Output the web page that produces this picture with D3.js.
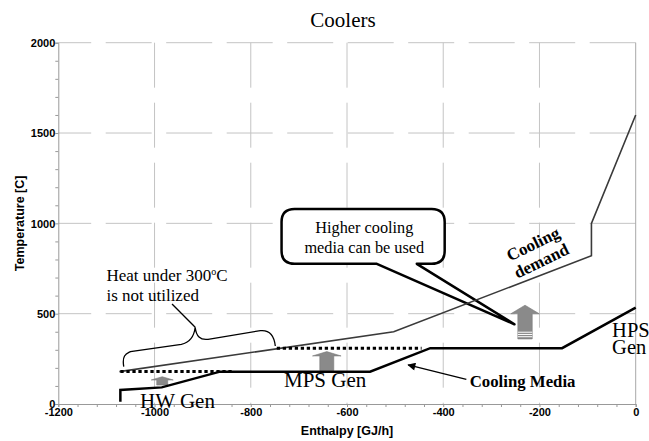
<!DOCTYPE html>
<html><head><meta charset="utf-8">
<script src="https://cdn.jsdelivr.net/npm/d3@7/dist/d3.min.js"></script>
<style>
html,body{margin:0;padding:0;background:#fff;}
svg{display:block;}
.serif{font-family:"Liberation Serif","Times New Roman",serif;}
.sans{font-family:"Liberation Sans",Arial,sans-serif;font-weight:bold;}
</style></head>
<body>
<svg id="chart" width="649" height="441"></svg>
<script>
// ---- data ----
const title = "Coolers";
const xTicks = [-1200, -1000, -800, -600, -400, -200, 0];
const yTicks = [0, 500, 1000, 1500, 2000];
// Cooling demand curve (enthalpy GJ/h, temperature C)
const demandH = [-1073, -503, -92, -92, 0];
const demandT = [179, 400, 821, 1000, 1600];
// Cooling media curve
const mediaH = [-1071, -1071, -985, -864, -552, -427, -153, 0];
const mediaT = [13, 78, 92, 179, 179, 309, 309, 533];
// dotted levels
const dotStartH = [-1071, -746];
const dotEndH = [-836, -445];
const dotT = [180, 309];
// upward block arrows
const arrowH = [-984, -642, -230];
const arrowBottomT = [105, 185, 360];
const arrowNeckT = [133, 266, 499];
const arrowTopT = [151, 290, 547];

// ---- scales ----
const svg = d3.select("#chart");
const x = d3.scaleLinear().domain([-1200, 0]).range([58.3, 635.7]);
const y = d3.scaleLinear().domain([0, 2000]).range([404, 42.7]);
const P = (h, t) => [x(h), y(t)];

// ---- grid ----
const grid = svg.append("g").attr("stroke", "#c4c4c4").attr("stroke-width", 1);
yTicks.filter(t => t > 0).forEach(t => {
  grid.append("line").attr("x1", x(0)).attr("x2", x(-1200)).attr("y1", y(t)).attr("y2", y(t))
    .attr("stroke-dasharray", "46,14.5");
});
xTicks.filter(h => h > -1200 && h < 0).forEach(h => {
  grid.append("line").attr("x1", x(h)).attr("x2", x(h)).attr("y1", y(2000)).attr("y2", y(0))
    .attr("stroke-dasharray", "45,15");
});
svg.append("line").attr("x1", x(0)).attr("x2", x(0)).attr("y1", y(2000)).attr("y2", y(0))
  .attr("stroke", "#a8a8a8").attr("stroke-width", 1);

// ---- axes ----
const yAxis = d3.axisLeft(y).tickValues(d3.range(0, 2001, 100)).tickSize(3)
  .tickFormat(d => yTicks.includes(d) ? d : "");
const gy = svg.append("g").attr("transform", `translate(${x(-1200)},0)`).call(yAxis);
const xAxis = d3.axisBottom(x).tickValues(d3.range(-1200, 1, 40)).tickSize(3)
  .tickFormat(d => xTicks.includes(d) ? d : "");
const gx = svg.append("g").attr("transform", `translate(0,${y(0)})`).call(xAxis);
[gx, gy].forEach(g => {
  g.attr("font-family", null).attr("font-size", null);
  g.select(".domain").attr("stroke", "#999");
  g.selectAll(".tick line").attr("stroke", "#999");
  g.selectAll("text")
    .style("font-family", '"Liberation Sans", Arial, sans-serif')
    .style("font-weight", "bold").style("font-size", "11px").attr("fill", "#000");
});
gy.selectAll("text").attr("x", -3).attr("dy", "0.35em");
gx.selectAll("text").attr("y", 4).attr("dy", "0.71em");

svg.append("text").attr("class", "sans").attr("font-size", 12.5).attr("text-anchor", "middle")
  .attr("transform", `translate(24,${(y(0) + y(2000)) / 2}) rotate(-90)`).text("Temperature [C]");
svg.append("text").attr("class", "sans").attr("font-size", 12.5).attr("text-anchor", "middle")
  .attr("x", (x(-1200) + x(0)) / 2).attr("y", 435).text("Enthalpy [GJ/h]");
svg.append("text").attr("class", "serif").attr("font-size", 21).attr("text-anchor", "middle")
  .attr("x", 343).attr("y", 27).text(title);

// ---- callout bubble ----
(function () {
  const L = x(-736), R = x(-397), T = y(1079), B = y(776), r = 13;
  const tl = x(-538), tr = x(-455), tip = P(-252, 441);
  const d = `M${tl},${B} L${L + r},${B} Q${L},${B} ${L},${B - r} L${L},${T + r} Q${L},${T} ${L + r},${T}
    L${R - r},${T} Q${R},${T} ${R},${T + r} L${R},${B - r} Q${R},${B} ${R - r},${B} L${tr},${B} L${tip[0]},${tip[1]} Z`;
  svg.append("path").attr("d", d).attr("fill", "#fff").attr("stroke", "#000").attr("stroke-width", 2.5)
    .attr("stroke-linejoin", "round");
  const t = svg.append("text").attr("class", "serif").attr("font-size", 16.3).attr("text-anchor", "middle");
  t.append("tspan").attr("x", x(-564)).attr("y", y(947)).text("Higher cooling");
  t.append("tspan").attr("x", x(-564)).attr("y", y(838)).text("media can be used");
})();

// ---- block arrows ----
const arrowW = [[11, 5.5], [14.3, 7], [14.3, 7.2]];
arrowH.forEach((h, i) => {
  const cx = x(h), hw = arrowW[i][0], sw = arrowW[i][1];
  const yb = y(arrowBottomT[i]), yn = y(arrowNeckT[i]), yt = y(arrowTopT[i]);
  const pts = [[cx - sw, yb], [cx - sw, yn], [cx - hw, yn], [cx, yt], [cx + hw, yn], [cx + sw, yn], [cx + sw, yb]];
  svg.append("path").attr("d", d3.line()(pts) + "Z").attr("fill", "#8a8a8a").attr("stroke", "#7a7a7a")
    .attr("stroke-width", 0.6);
  if (i === 2) {
    [0.25, 0.5, 0.75].forEach(f => {
      const yy = yb - f * 9;
      svg.append("line").attr("x1", cx - sw).attr("x2", cx + sw).attr("y1", yy).attr("y2", yy)
        .attr("stroke", "#fff").attr("stroke-width", 1);
    });
  }
});

// ---- curves ----
const line = d3.line().x(d => x(d[0])).y(d => y(d[1]));
svg.append("path").datum(demandH.map((h, i) => [h, demandT[i]])).attr("d", line)
  .attr("fill", "none").attr("stroke", "#3a3a3a").attr("stroke-width", 1.6);
dotT.forEach((t, i) => {
  svg.append("path").datum([[dotStartH[i], t], [dotEndH[i], t]]).attr("d", line)
    .attr("fill", "none").attr("stroke", "#000").attr("stroke-width", 3).attr("stroke-dasharray", "3.3,2.7");
});
svg.append("path").datum(mediaH.map((h, i) => [h, mediaT[i]])).attr("d", line)
  .attr("fill", "none").attr("stroke", "#000").attr("stroke-width", 2.5).attr("stroke-linejoin", "miter");

// ---- brace ----
(function () {
  const a = P(-1064, 207), c1 = P(-1050, 290), b1 = P(-936, 336), tip = P(-915.5, 425),
        b2 = P(-895, 358), c2 = P(-780, 406), e = P(-749, 321);
  const d = `M${a[0]},${a[1]} C${a[0] - 2},${a[1] - 12} ${a[0] + 3},${c1[1] + 2} ${c1[0]},${c1[1]}
    L${b1[0] - 4},${b1[1] + 1} C${b1[0] + 6},${b1[1] - 1} ${tip[0] - 1},${tip[1] + 8} ${tip[0]},${tip[1]}
    C${tip[0] + 1},${tip[1] + 9} ${b2[0] - 5},${b2[1] + 1} ${b2[0] + 3},${b2[1]}
    L${c2[0]},${c2[1]} C${c2[0] + 10},${c2[1] - 1} ${e[0] - 1},${e[1] - 9} ${e[0]},${e[1]}`;
  svg.append("path").attr("d", d).attr("fill", "none").attr("stroke", "#000").attr("stroke-width", 1.3);
  const p2 = P(-963.6, 554);
  svg.append("line").attr("x1", tip[0]).attr("y1", tip[1]).attr("x2", p2[0]).attr("y2", p2[1])
    .attr("stroke", "#000").attr("stroke-width", 1.3);
})();

// ---- text labels ----
const heat = svg.append("text").attr("class", "serif").attr("font-size", 17);
const l1 = heat.append("tspan").attr("x", x(-1100)).attr("y", y(683));
l1.append("tspan").text("Heat under 300");
l1.append("tspan").attr("font-size", 10).attr("dy", -6).text("o");
l1.append("tspan").attr("dy", 6).text("C");
heat.append("tspan").attr("x", x(-1100)).attr("y", y(572)).text("is not utilized");

svg.append("text").attr("class", "serif").attr("font-size", 21).attr("x", x(-1030)).attr("y", y(-22)).text("HW Gen");
svg.append("text").attr("class", "serif").attr("font-size", 21).attr("x", x(-731)).attr("y", y(92)).text("MPS Gen");
const hps = svg.append("text").attr("class", "serif").attr("font-size", 20.5);
hps.append("tspan").attr("x", x(-49)).attr("y", y(373)).text("HPS");
hps.append("tspan").attr("x", x(-49)).attr("y", y(277)).text("Gen");

svg.append("text").attr("class", "serif").attr("font-weight", "bold").attr("font-size", 16.8)
  .attr("x", x(-345)).attr("y", y(96)).text("Cooling Media");

// arrow from label to curve
svg.append("defs").append("marker").attr("id", "ah").attr("viewBox", "0 0 10 10").attr("refX", 9).attr("refY", 5)
  .attr("markerWidth", 10).attr("markerHeight", 8).attr("markerUnits", "userSpaceOnUse").attr("orient", "auto")
  .append("path").attr("d", "M0,0 L10,5 L0,10 Z").attr("fill", "#000");
const aS = P(-352, 136), aE = P(-473, 216);
svg.append("line").attr("x1", aS[0]).attr("y1", aS[1]).attr("x2", aE[0]).attr("y2", aE[1])
  .attr("stroke", "#000").attr("stroke-width", 1.3).attr("marker-end", "url(#ah)");

const cd = svg.append("g").attr("transform", `translate(${x(-204)},${y(835)}) rotate(-26)`);
cd.append("text").attr("class", "serif").attr("font-weight", "bold").attr("font-size", 17)
  .attr("text-anchor", "middle").attr("y", -4.5).text("Cooling");
cd.append("text").attr("class", "serif").attr("font-weight", "bold").attr("font-size", 17)
  .attr("text-anchor", "middle").attr("y", 14.3).text("demand");
</script>
</body></html>
